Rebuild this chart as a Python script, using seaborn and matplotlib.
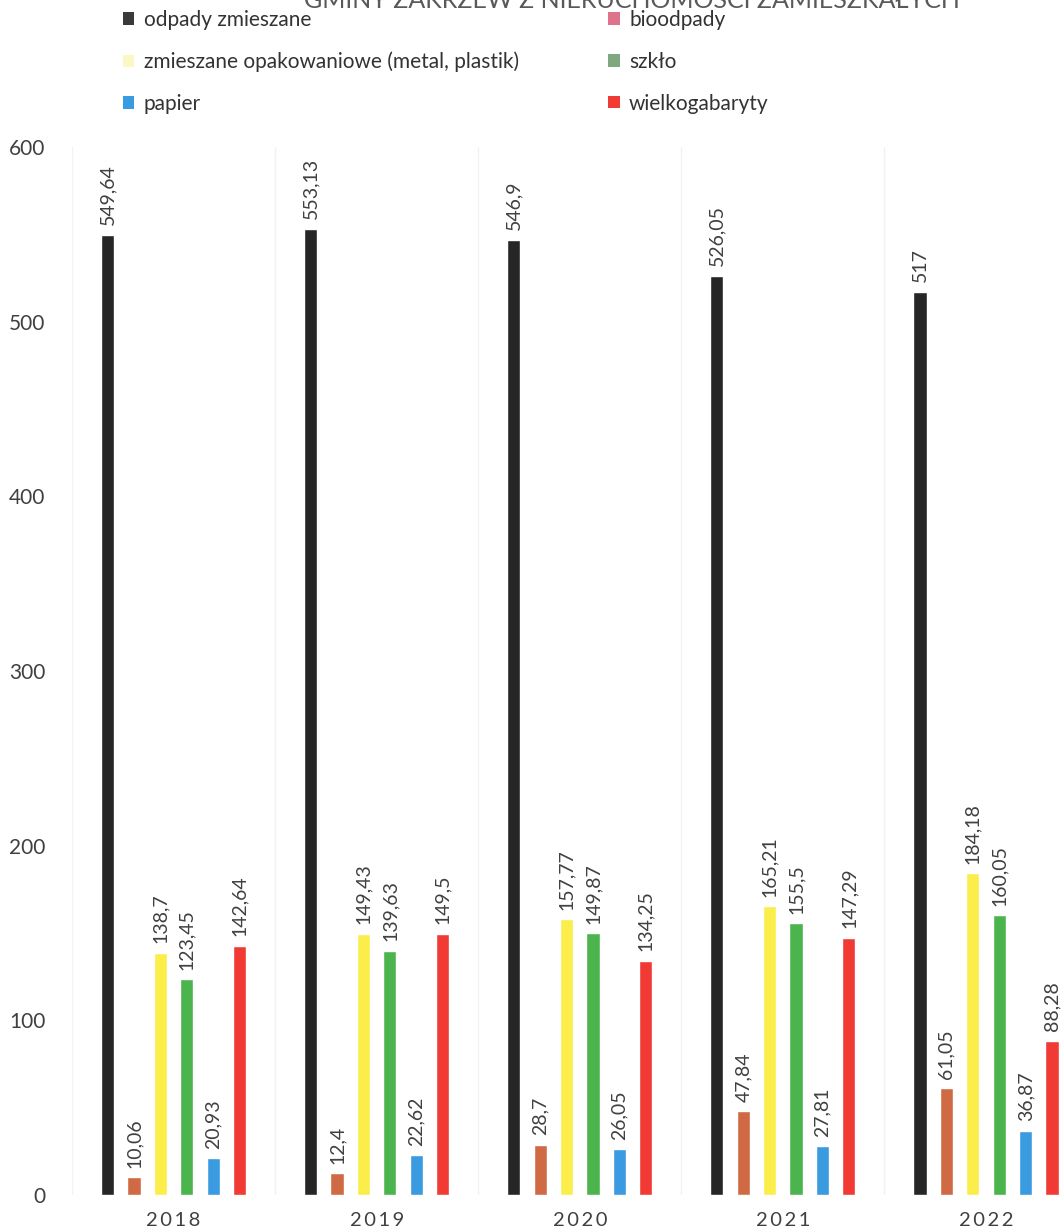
import numpy as np
import pandas as pd
import seaborn as sns
import matplotlib.pyplot as plt
from matplotlib.patches import Patch

# Dane
lata = ["2018", "2019", "2020", "2021", "2022"]
rodzaje = ["odpady zmieszane", "bioodpady", "zmieszane opakowaniowe (metal, plastik)",
           "szkło", "papier", "wielkogabaryty"]
odpady_zmieszane = [549.64, 553.13, 546.9, 526.05, 517]
bioodpady = [10.06, 12.4, 28.7, 47.84, 61.05]
opakowaniowe = [138.7, 149.43, 157.77, 165.21, 184.18]
szklo = [123.45, 139.63, 149.87, 155.5, 160.05]
papier = [20.93, 22.62, 26.05, 27.81, 36.87]
wielkogabaryty = [142.64, 149.5, 134.25, 147.29, 88.28]

serie = [odpady_zmieszane, bioodpady, opakowaniowe, szklo, papier, wielkogabaryty]
kolory_slupkow = ["#262626", "#cf6a45", "#fcee4a", "#4cb44c", "#3b9be0", "#f23a35"]
kolory_legendy = ["#3a3a3a", "#e0738c", "#fbf8c4", "#80a880", "#3b9be0", "#f23a35"]

df = pd.DataFrame([(rok, rodzaj, s[i]) for rodzaj, s in zip(rodzaje, serie)
                   for i, rok in enumerate(lata)], columns=["rok", "rodzaj", "wartosc"])

sns.set_theme(style="white")
plt.rcParams["font.family"] = ["Lato", "DejaVu Sans"]

fig = plt.figure(figsize=(10.63, 12.32), dpi=100)
ax = fig.add_axes([72 / 1063, 37 / 1232, 1 - 72 / 1063, 1048 / 1232])

sns.barplot(data=df, x="rok", y="wartosc", hue="rodzaj", hue_order=rodzaje,
            palette=kolory_slupkow, width=0.78, gap=0.5, saturation=1,
            legend=False, ax=ax)

for c in ax.containers:
    ax.bar_label(c, labels=[f"{v:g}".replace(".", ",") for v in c.datavalues],
                 rotation=90, padding=7, fontsize=14, color="#404040")

# delikatne linie oddzielające lata
for x in np.arange(-0.5, 5, 1):
    ax.axvline(x, color="#f2f2f2", linewidth=1, zorder=0)

ax.set_ylim(0, 600)
ax.set_xlim(-0.5, (1063 - 174) / 203)
ax.set_yticks(range(0, 601, 100))
ax.set_xticks(range(5), [" ".join(r).replace(" ", "\u2009") for r in lata])
ax.set_xlabel("")
ax.set_ylabel("")
ax.tick_params(axis="y", labelsize=15, pad=19, colors="#404040", length=0)
ax.tick_params(axis="x", labelsize=14.5, pad=12, colors="#404040", length=0)
sns.despine(ax=ax, left=True, bottom=True)

# tytuł (ucięty u góry, jak w oryginale)
fig.text(632 / 1063, 1.0, "GMINY ZAKRZEW Z NIERUCHOMOŚCI ZAMIESZKAŁYCH",
         ha="center", va="center", fontsize=18, color="#595959")

uchwyty = [Patch(facecolor=k, edgecolor="none") for k in kolory_legendy]
kolejnosc = [0, 2, 4, 1, 3, 5]
fig.legend([uchwyty[i] for i in kolejnosc], [rodzaje[i] for i in kolejnosc],
           ncol=2, loc="upper left", bbox_to_anchor=(104 / 1063, 1 + 9 / 1232),
           frameon=False, fontsize=15, handlelength=0.55, handleheight=0.55,
           handletextpad=0.45, columnspacing=4.3, labelspacing=1.05,
           labelcolor="#333333")

fig.savefig("out.png", dpi=100)
